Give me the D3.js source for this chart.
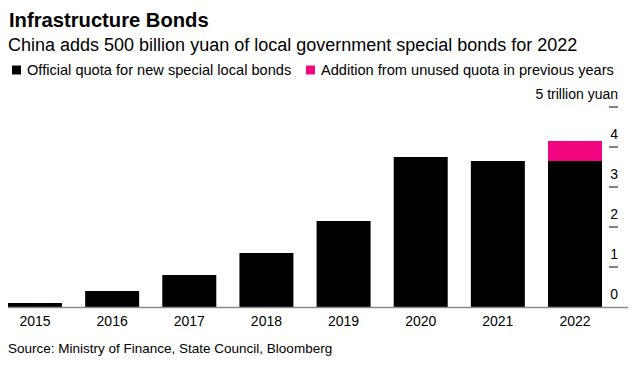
<!DOCTYPE html>
<html>
<head>
<meta charset="utf-8">
<script src="https://cdn.jsdelivr.net/npm/d3@7"></script>
<style>
  body { margin: 0; background: #fff; }
  svg { display: block; font-family: "Liberation Sans", Arial, sans-serif; }
</style>
</head>
<body>
<svg id="chart" width="636" height="366"></svg>
<script>
const years = ["2015", "2016", "2017", "2018", "2019", "2020", "2021", "2022"];
const officialQuota = [0.1, 0.4, 0.8, 1.35, 2.15, 3.75, 3.65, 3.65];
const unusedAddition = [0, 0, 0, 0, 0, 0, 0, 0.5];
const yTicks = [0, 1, 2, 3, 4, 5];

const seriesNames = ["Official quota for new special local bonds", "Addition from unused quota in previous years"];
const colors = ["#000000", "#f2067f"];

const width = 636;
const height = 366;

const svg = d3.select("#chart");

const x = d3.scaleBand().domain(years).range([8, 602]).paddingInner(0.3).paddingOuter(0);
const y = d3.scaleLinear().domain([0, 5]).range([307, 107]);

// titles
svg.append("text")
  .attr("x", 9)
  .attr("y", 27)
  .attr("font-size", 20.2)
  .attr("font-weight", "bold")
  .attr("fill", "#000")
  .text("Infrastructure Bonds");

svg.append("text")
  .attr("x", 8)
  .attr("y", 50.5)
  .attr("font-size", 18)
  .attr("fill", "#000")
  .text("China adds 500 billion yuan of local government special bonds for 2022");

// legend
const legendX = [12, 306];
seriesNames.forEach((name, i) => {
  const g = svg.append("g").attr("transform", `translate(${legendX[i]}, 0)`);
  g.append("rect")
    .attr("x", 0)
    .attr("y", 65.5)
    .attr("width", 9)
    .attr("height", 9)
    .attr("fill", colors[i]);
  g.append("text")
    .attr("x", 15)
    .attr("y", 75)
    .attr("font-size", 14.6)
    .attr("fill", "#000")
    .text(name);
});

// stacked bars
const data = years.map((yr, i) => ({ year: yr, official: officialQuota[i], unused: unusedAddition[i] }));
const stack = d3.stack().keys(["official", "unused"]);
const series = stack(data);

svg.append("g")
  .selectAll("g")
  .data(series)
  .enter()
  .append("g")
  .attr("fill", (d, i) => colors[i])
  .selectAll("rect")
  .data((d) => d.filter((s) => s[1] > s[0]))
  .enter()
  .append("rect")
  .attr("x", (d) => x(d.data.year))
  .attr("y", (d) => y(d[1]))
  .attr("width", x.bandwidth())
  .attr("height", (d) => y(d[0]) - y(d[1]));

// baseline
svg.append("line")
  .attr("x1", 8)
  .attr("x2", 628)
  .attr("y1", y(0) + 0.5)
  .attr("y2", y(0) + 0.5)
  .attr("stroke", "#8a8a8a")
  .attr("stroke-width", 1.6);

// y axis ticks on the right
const yAxis = svg.append("g");
yAxis.selectAll("line")
  .data(yTicks.filter((t) => t > 0))
  .enter()
  .append("line")
  .attr("x1", 609)
  .attr("x2", 618)
  .attr("y1", (d) => y(d))
  .attr("y2", (d) => y(d))
  .attr("stroke", "#000")
  .attr("stroke-width", 1);

yAxis.selectAll("text")
  .data(yTicks)
  .enter()
  .append("text")
  .attr("x", 618)
  .attr("y", (d) => y(d) - 8)
  .attr("text-anchor", "end")
  .attr("font-size", 14)
  .attr("fill", "#000")
  .text((d) => (d === 5 ? "5 trillion yuan" : d));

// x axis labels
svg.append("g")
  .selectAll("text")
  .data(years)
  .enter()
  .append("text")
  .attr("x", (d) => x(d) + x.bandwidth() / 2)
  .attr("y", 326)
  .attr("text-anchor", "middle")
  .attr("font-size", 14)
  .attr("fill", "#000")
  .text((d) => d);

// source
svg.append("text")
  .attr("x", 8)
  .attr("y", 353)
  .attr("font-size", 13.5)
  .attr("fill", "#000")
  .text("Source: Ministry of Finance, State Council, Bloomberg");
</script>
</body>
</html>
